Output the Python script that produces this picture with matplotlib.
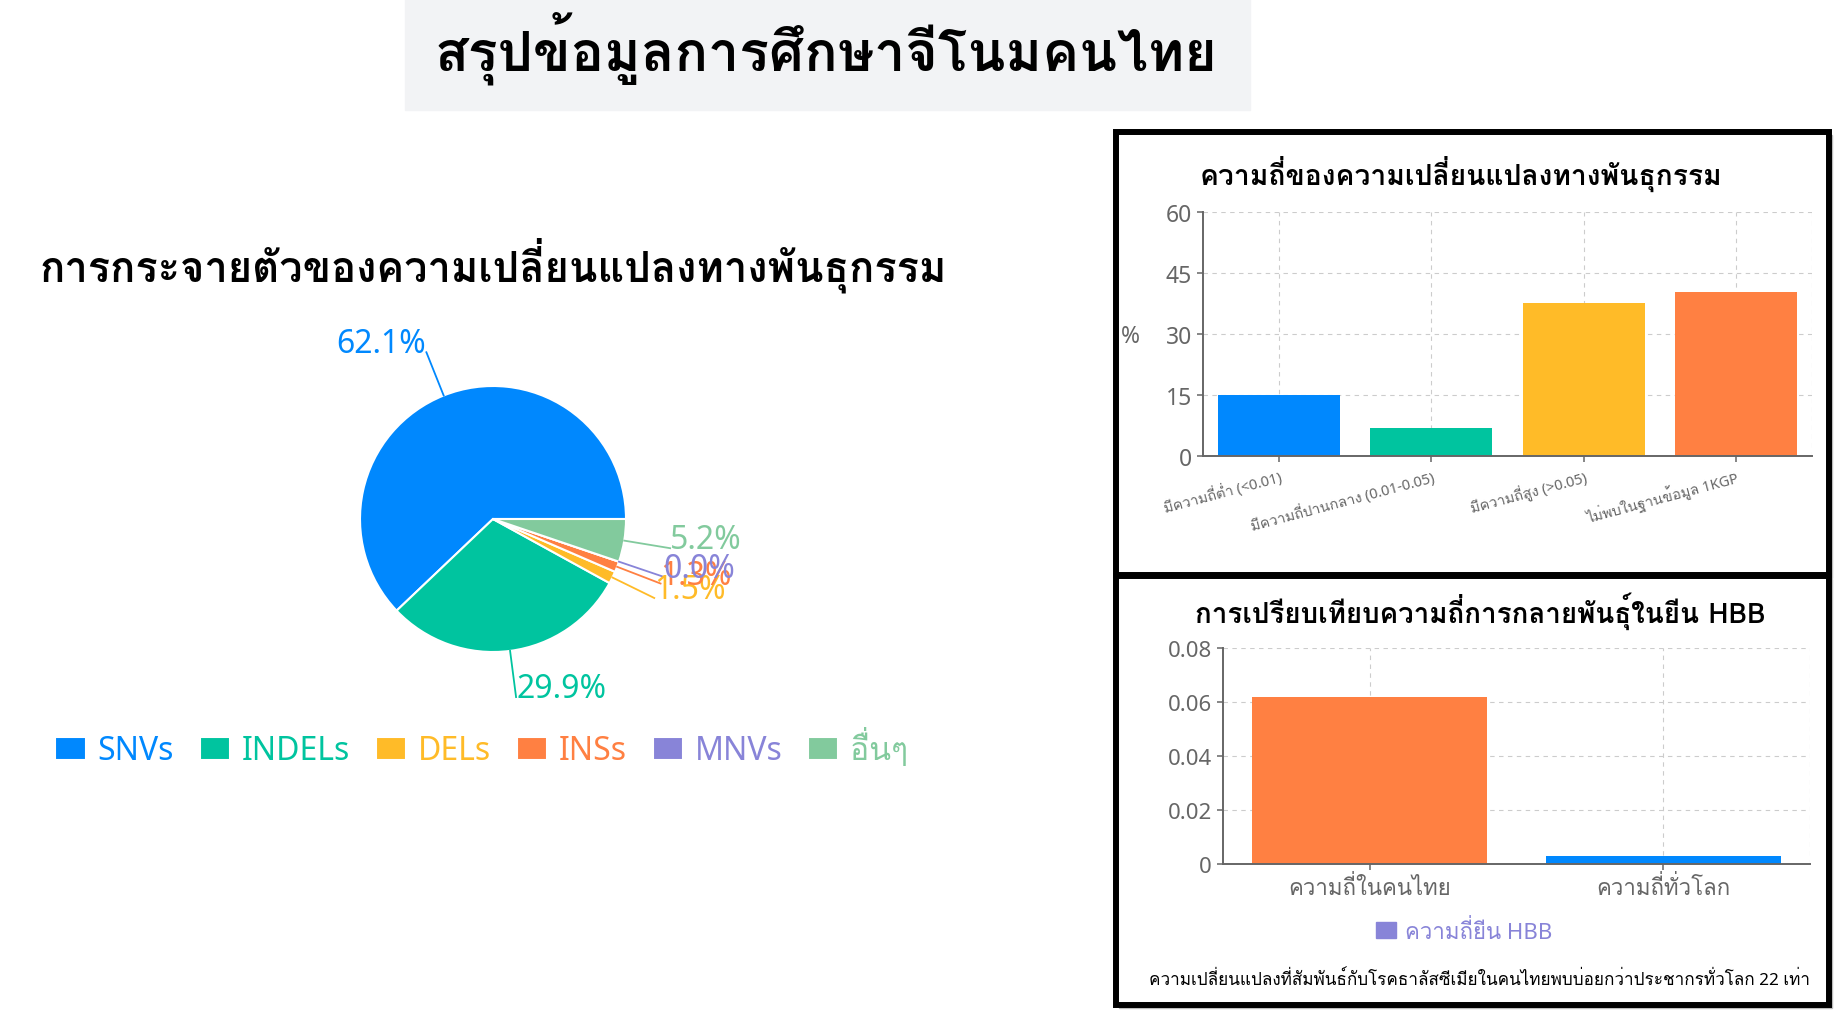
import matplotlib
matplotlib.use("Agg")
import matplotlib.pyplot as plt
from matplotlib.patches import Rectangle, Patch
import numpy as np

W, H = 1840, 1012
BODY = ["Noto Sans", "Loma"]
HEAD = ["Loma", "Noto Sans"]
plt.rcParams["font.family"] = BODY

GREY = "#666666"
COLORS = ["#0088FE", "#00C49F", "#FFBB28", "#FF8042", "#8884D8", "#82CA9D"]

# variant type shares (pie)
variant_types = ["SNVs", "INDELs", "DELs", "INSs", "MNVs", "อื่นๆ"]
variant_share = [62.1, 29.9, 1.5, 1.3, 0.0, 5.2]

# allele frequency groups (upper bar chart)
freq_groups = ["มีความถี่ต่ำ (<0.01)", "มีความถี่ปานกลาง (0.01-0.05)",
               "มีความถี่สูง (>0.05)", "ไม่พบในฐานข้อมูล 1KGP"]
freq_percent = [15.0, 7.0, 37.6, 40.4]
freq_ticks = [0, 15, 30, 45, 60]

# HBB mutation frequency (lower bar chart)
hbb_groups = ["ความถี่ในคนไทย", "ความถี่ทั่วโลก"]
hbb_freq = [0.062, 0.0028]
hbb_ticks = [0, 0.02, 0.04, 0.06, 0.08]
hbb_tick_labels = ["0", "0.02", "0.04", "0.06", "0.08"]
hbb_colors = ["#FF8042", "#0088FE"]


def px(l, t, r, b):
    """pixel box (left, top, right, bottom) -> figure rect"""
    return [l / W, 1 - b / H, (r - l) / W, (b - t) / H]


def fit_width(txt, width_px):
    """rescale a text so it spans width_px pixels"""
    r = fig.canvas.get_renderer()
    w = txt.get_window_extent(r).width
    txt.set_fontsize(txt.get_fontsize() * width_px / w)


def style_bar_axes(ax, ymax):
    for s in ["top", "right"]:
        ax.spines[s].set_visible(False)
    for s in ["left", "bottom"]:
        ax.spines[s].set_color(GREY)
        ax.spines[s].set_linewidth(1.4)
    ax.set_ylim(0, ymax)
    ax.tick_params(axis="both", colors=GREY, length=4.5, width=1.1)
    ax.grid(True, color="#cccccc", linestyle=(0, (4, 4)), linewidth=0.8)
    ax.set_axisbelow(True)
    ax.axvline(ax.get_xlim()[1], color="#cccccc", linestyle=(0, (4, 4)), linewidth=0.8, zorder=0)


fig = plt.figure(figsize=(W / 100, H / 100), dpi=100)

# ---------- header ----------
fig.add_artist(Rectangle((405 / W, 1 - 111 / H), 845 / W, 111 / H,
                         transform=fig.transFigure, color="#f2f3f5", zorder=0))
t = fig.text(826 / W, 1 - 48 / H, "สรุปข้อมูลการศึกษาจีโนมคนไทย", ha="center", va="center",
             fontsize=35, weight="bold", family=HEAD)
fit_width(t, 783)

# ---------- pie ----------
t = fig.text(493 / W, 1 - 265 / H, "การกระจายตัวของความเปลี่ยนแปลงทางพันธุกรรม",
             ha="center", va="center", fontsize=28, weight="bold", family=HEAD)
fit_width(t, 909)

ax_pie = fig.add_axes(px(493 - 266, 520 - 266, 493 + 266, 520 + 266))
wedges, _ = ax_pie.pie(variant_share, colors=COLORS, startangle=0, counterclock=True,
                       radius=1.0, wedgeprops=dict(edgecolor="white", linewidth=1.5))
ax_pie.set_xlim(-2, 2)
ax_pie.set_ylim(-2, 2)
ax_pie.axis("off")

# label lines and percentages outside each slice
for w, c, v in zip(wedges, COLORS, variant_share):
    ang = np.deg2rad((w.theta1 + w.theta2) / 2)
    cx, cy = np.cos(ang), np.sin(ang)
    ax_pie.plot([cx, 1.35 * cx], [cy, 1.35 * cy], color=c, lw=1.3)
    ax_pie.text(1.35 * cx, 1.35 * cy, f"{v:.1f}%", color=c, fontsize=23,
                ha="left" if cx >= 0 else "right", va="baseline")

leg = fig.legend(wedges, variant_types, loc="center", bbox_to_anchor=(482 / W, 1 - 749 / H),
                 ncol=6, frameon=False, fontsize=23, handlelength=0.94, handleheight=0.72,
                 handletextpad=0.38, columnspacing=0.8)
for t, c in zip(leg.get_texts(), COLORS):
    t.set_color(c)

# ---------- panel borders ----------
for top, bottom in [(133, 576), (577, 1006)]:
    fig.add_artist(Rectangle((1119 / W, 1 - (bottom + 3) / H), 713 / W, (bottom - top) / H,
                             transform=fig.transFigure, color="#bbbbbb", zorder=4))
    fig.add_artist(Rectangle((1116 / W, 1 - bottom / H), 713 / W, (bottom - top) / H,
                             transform=fig.transFigure, facecolor="white", edgecolor="black",
                             linewidth=4.3, zorder=5))

# ---------- upper bar chart ----------
t = fig.text(1461 / W, 1 - 174 / H, "ความถี่ของความเปลี่ยนแปลงทางพันธุกรรม",
             ha="center", va="center", fontsize=19, weight="bold", family=HEAD, zorder=6)
fit_width(t, 522)
ax1 = fig.add_axes(px(1203, 213, 1812, 457))
ax1.set_zorder(6)
ax1.patch.set_alpha(0)
x1 = np.arange(len(freq_groups))
ax1.bar(x1, freq_percent, width=0.8, color=COLORS[:4])
ax1.set_xlim(-0.5, len(freq_groups) - 0.5)
style_bar_axes(ax1, 60)
ax1.set_yticks(freq_ticks)
ax1.set_yticklabels([str(v) for v in freq_ticks], fontsize=16.5)
ax1.set_xticks(x1)
ax1.set_xticklabels(freq_groups, fontsize=10.5, rotation=15, ha="right",
                    rotation_mode="anchor")
ax1.set_ylabel("%", rotation=0, color=GREY, fontsize=16.5, ha="center", va="center")
ax1.yaxis.set_label_coords(-0.12, 0.49)

# ---------- lower bar chart ----------
t = fig.text(1480 / W, 1 - 611 / H, "การเปรียบเทียบความถี่การกลายพันธุ์ในยีน HBB",
             ha="center", va="center", fontsize=19, weight="bold", family=HEAD, zorder=6)
fit_width(t, 570)
ax2 = fig.add_axes(px(1223, 649, 1810, 865))
ax2.set_zorder(6)
ax2.patch.set_alpha(0)
x2 = np.arange(len(hbb_groups))
ax2.bar(x2, hbb_freq, width=0.8, color=hbb_colors)
ax2.set_xlim(-0.5, len(hbb_groups) - 0.5)
style_bar_axes(ax2, 0.08)
ax2.set_yticks(hbb_ticks)
ax2.set_yticklabels(hbb_tick_labels, fontsize=16)
ax2.set_xticks(x2)
ax2.set_xticklabels(hbb_groups, fontsize=16)

leg2 = fig.legend([Patch(color=COLORS[4])], ["ความถี่ยีน HBB"], loc="center",
                  bbox_to_anchor=(1464 / W, 1 - 932 / H), frameon=False, fontsize=16,
                  labelcolor=COLORS[4], handlelength=0.9, handleheight=0.7, handletextpad=0.4)
leg2.set_zorder(6)

t = fig.text(1480 / W, 1 - 980 / H,
             "ความเปลี่ยนแปลงที่สัมพันธ์กับโรคธาลัสซีเมียในคนไทยพบบ่อยกว่าประชากรทั่วโลก 22 เท่า",
             ha="center", va="center", fontsize=13, color="black", zorder=6)
fit_width(t, 661)

fig.savefig("out.png", dpi=100)
